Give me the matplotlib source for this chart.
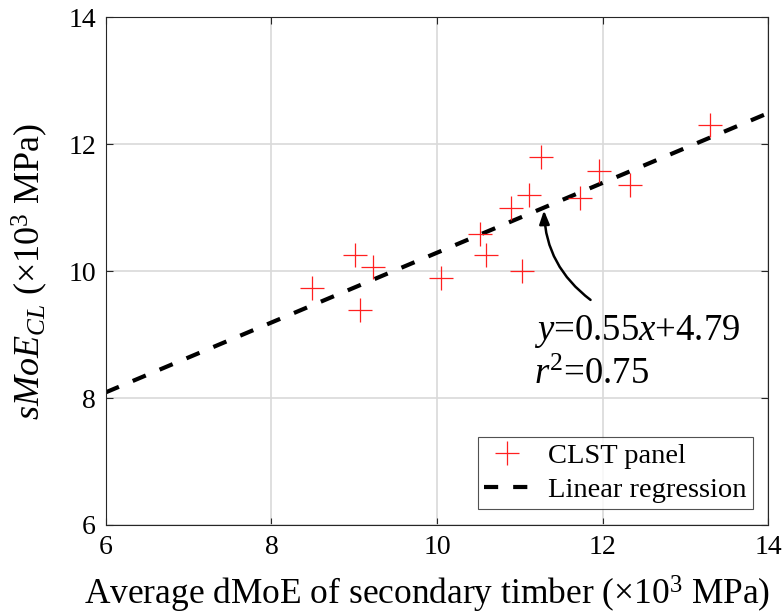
import numpy as np
import matplotlib
matplotlib.use('Agg')
import matplotlib.pyplot as plt

# data
dmoe = [8.49, 9.01, 9.07, 9.23, 10.05, 10.52, 10.59, 10.89, 11.03, 11.11,
        11.26, 11.73, 11.95, 12.33, 13.29]
smoe = [9.73, 10.25, 9.39, 10.06, 9.89, 10.58, 10.25, 10.99, 10.00, 11.20,
        11.80, 11.15, 11.57, 11.35, 12.30]
slope = 0.55
intercept = 4.79
r2 = 0.75
x_fit = [6, 14]

plt.rcParams['font.family'] = ['Liberation Serif', 'DejaVu Serif']
plt.rcParams['mathtext.fontset'] = 'custom'
plt.rcParams['mathtext.rm'] = 'Liberation Serif'
plt.rcParams['mathtext.it'] = 'Liberation Serif:italic'

fig = plt.figure(figsize=(7.84, 6.14), dpi=100)
ax = fig.add_axes([0.135, 0.145, 0.845, 0.827])

ax.plot(dmoe, smoe, '+', color='#ff2020', markersize=17, markeredgewidth=0.9,
        label='CLST panel', zorder=3)
y_fit = [slope * v + intercept for v in x_fit]
ax.plot(x_fit, y_fit, '--', color='black', linewidth=3, dashes=(3.4, 3.6),
        label='Linear regression', zorder=2)

ax.set_xlim(6, 14)
ax.set_ylim(6, 14)
ax.set_xticks([6, 8, 10, 12, 14])
ax.set_yticks([6, 8, 10, 12, 14])
ax.grid(True, color='#d9d9d9', linewidth=1.2)
ax.set_axisbelow(True)
ax.tick_params(direction='in', top=True, right=True, labelsize=20,
               length=5, color='#262626', pad=7)
for s in ax.spines.values():
    s.set_color('#262626')
    s.set_linewidth(0.8)

ax.set_xlabel('Average dMoE of secondary timber ($\\times$10$^3$ MPa)', fontsize=25.5)
ax.xaxis.set_label_coords(0.485, -0.096)
ax.set_ylabel('$sMoE_{CL}$ ($\\times$10$^3$ MPa)', fontsize=26, labelpad=13)

ax.text(11.17, 9.05, f'$y$={slope:.2f}$x$+{intercept:.2f}', fontsize=26.5, va='center', ha='left')
ax.text(11.17, 8.37, f'$r^2$={r2:.2f}', fontsize=26.5, va='center', ha='left')
ax.annotate('', xy=(11.29, 11.0), xytext=(11.88, 9.52),
            arrowprops=dict(arrowstyle='-|>,head_length=0.8,head_width=0.3',
                            color='black', lw=1.8,
                            connectionstyle='arc3,rad=-0.25'))

leg = ax.legend(loc='lower right', fontsize=20.5, frameon=True, fancybox=False,
                edgecolor='#262626', borderaxespad=0.55, handlelength=1.6,
                borderpad=0.22, labelspacing=0.28, handletextpad=0.65)
leg.get_frame().set_linewidth(0.8)

fig.savefig('out.png', dpi=100)
